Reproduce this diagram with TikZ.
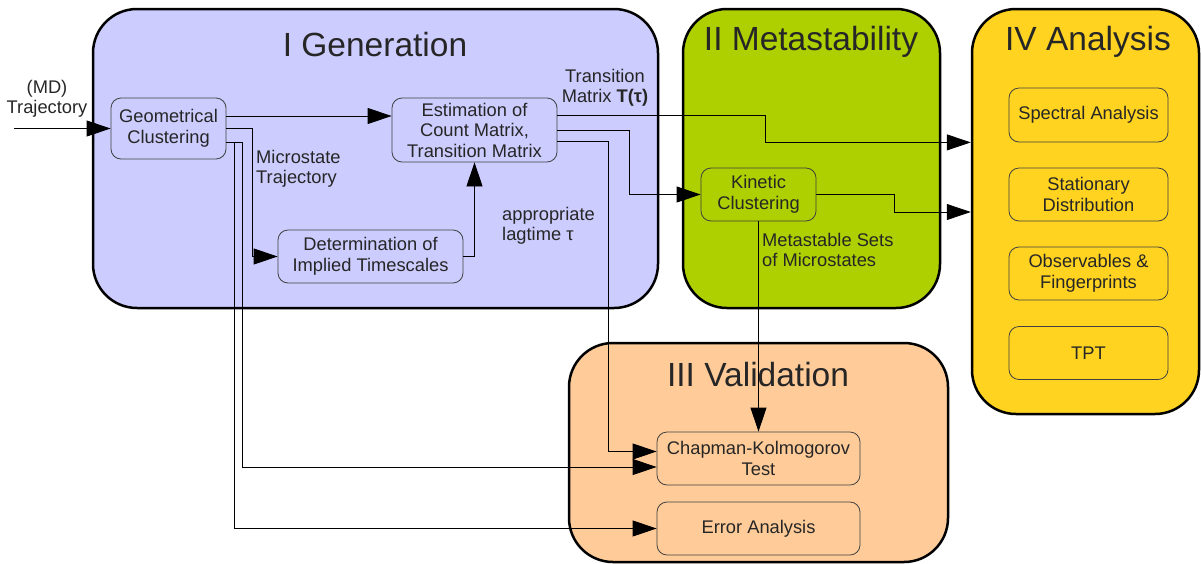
\documentclass[tikz,border=0pt]{standalone}
\usepackage{fontspec}
\setmainfont{Liberation Sans}
\usepackage{tikz}
\usetikzlibrary{arrows.meta, calc}

\definecolor{genblue}{HTML}{CCCCFF}
\definecolor{metagreen}{HTML}{AECF00}
\definecolor{valorange}{HTML}{FFCC99}
\definecolor{anayellow}{HTML}{FFD320}

\tikzset{
	panel/.style = {draw, line width = 2.5pt, rounded corners = 44pt},
	paneltitle/.style = {font = \fontsize{33.5}{38}\selectfont, text = black!85},
	stepbox/.style = {draw = black!75, line width = 0.8pt, rounded corners = 10pt, align = center,
		inner sep = 0pt, font = \fontsize{18.3}{20.5}\selectfont, text = black!85},
	note/.style = {inner sep = 0pt, font = \fontsize{18.3}{20.5}\selectfont, text = black!85},
	flow/.style = {-{Triangle[length = 24pt, width = 16pt]}, line width = 0.8pt},
}

\begin{document}
\begin{tikzpicture}[x = 1pt, y = -1pt]
			\useasboundingbox (0,0) rectangle (1201,563);

			\begin{scope}
				\node [panel, fill = genblue, minimum width = 565pt, minimum height = 299pt] (gen) at (375.5,158.5) {};
				\node [panel, fill = metagreen, minimum width = 257pt, minimum height = 299pt] (meta) at (811.5,158.5) {};
				\node [panel, fill = anayellow, minimum width = 227pt, minimum height = 405pt] (ana) at (1085.5,211.5) {};
				\node [panel, fill = valorange, minimum width = 379pt, minimum height = 219pt] (val) at (758.5,452.5) {};

				\node [paneltitle] (gentitle) at (375,45) {I Generation};
				\node [paneltitle] (metatitle) at (811,42) {II Metastability};
				\node [paneltitle] (anatitle) at (1088,42) {IV Analysis};
				\node [paneltitle] (valtitle) at (758,375) {III Validation};
			\end{scope}

			\begin{scope}
				\node [stepbox, minimum width = 115pt, minimum height = 61pt] (geo) at (168.5,128.5) {Geometrical\\Clustering};
				\node [stepbox, minimum width = 165pt, minimum height = 64pt] (est) at (474.5,130) {Estimation of\\Count Matrix,\\Transition Matrix};
				\node [stepbox, minimum width = 185pt, minimum height = 53pt] (det) at (370.5,256.5) {Determination of\\Implied Timescales};
				\node [stepbox, minimum width = 115pt, minimum height = 53pt] (kin) at (758.5,194.5) {Kinetic\\Clustering};
				\node [stepbox, minimum width = 159pt, minimum height = 54pt] (spec) at (1088.5,115) {Spectral Analysis};
				\node [stepbox, minimum width = 159pt, minimum height = 53pt] (stat) at (1088.5,194.5) {Stationary\\Distribution};
				\node [stepbox, minimum width = 159pt, minimum height = 53pt] (obs) at (1088.5,273.5) {Observables \&\\Fingerprints};
				\node [stepbox, minimum width = 159pt, minimum height = 53pt] (tpt) at (1088.5,353) {TPT};
				\node [stepbox, minimum width = 203pt, minimum height = 53pt] (chap) at (758.5,458.5) {Chapman-Kolmogorov\\Test};
				\node [stepbox, minimum width = 203pt, minimum height = 53pt] (err) at (758.5,528.5) {Error Analysis};
			\end{scope}

			\node [note, align = center] (mdlabel) at (47,99) {(MD)\\Trajectory};
			\node [note, align = left, anchor = west] (microlabel) at (256,169) {Microstate\\Trajectory};
			\node [note, align = center] (tlabel) at (605,88) {Transition\\Matrix \textbf{T(τ)}};
			\node [note, align = left, anchor = west] (laglabel) at (502,226) {appropriate\\lagtime τ};
			\node [note, align = left, anchor = west] (metalabel) at (762,250) {Metastable Sets\\of Microstates};

			\coordinate (mdin) at (14,128.5);

			\begin{scope}[flow]
				\draw (mdin) -- (geo.west);
				\draw ([yshift = 12.5pt]geo.east) -- ([yshift = 12.5pt]geo.east -| est.west);
				\draw (geo.east) -- ++(26,0) |- (det.west);
				\draw ([yshift = -13.5pt]geo.east) -- ++(16,0) |- ([yshift = -8.5pt]chap.west);
				\draw ([yshift = -13.5pt]geo.east) -- ++(8,0) |- (err.west);
				\draw (det.east) -| (est.south);
				\draw ([yshift = 15pt]est.east) -- ++(208,0) |- (spec.south -| ana.west);
				\draw (est.east) -- ++(72,0) |- (kin.west);
				\draw ([yshift = -11pt]est.east) -- ++(51,0) |- ([yshift = 7pt]chap.west);
				\draw (kin.south) -- (chap.north);
				\draw (kin.east) -- ++(78,0) |- ([yshift = -17.5pt]kin.east -| ana.west);
			\end{scope}
		\end{tikzpicture}
\end{document}
